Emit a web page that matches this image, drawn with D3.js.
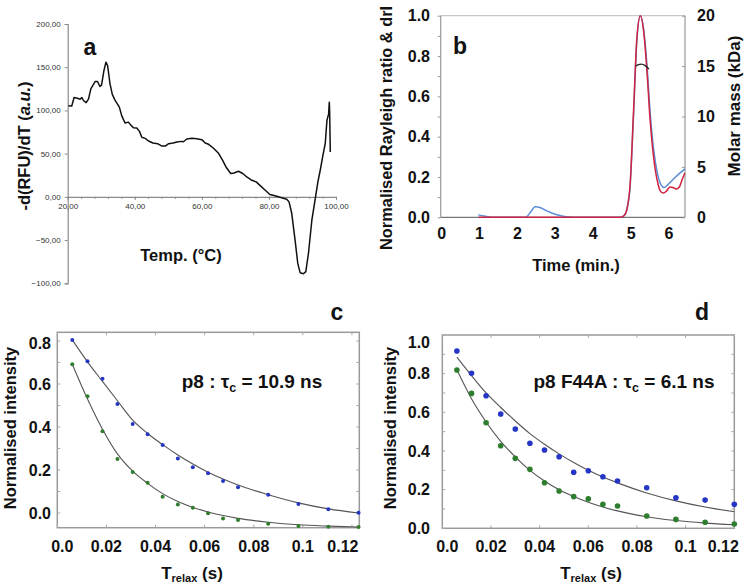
<!DOCTYPE html>
<html><head><meta charset="utf-8">
<script src="https://cdn.jsdelivr.net/npm/d3@7"></script>
<style>body{margin:0;background:#fff}svg{display:block}text{font-family:"Liberation Sans",Arial,Helvetica,sans-serif}</style>
</head><body><svg width="745" height="586"></svg>
<script>
// ---------- Panel a : thermal shift derivative ----------
const aTemp = [20.2,21.2,21.9,22.9,23.7,24.2,24.7,25.5,26.2,26.9,28.2,28.9,29.6,30.1,30.8,31.4,31.9,32.6,33.3,34.1,34.8,35.4,36.1,37.1,38.1,38.9,39.6,40.6,41.4,42.1,43.1,44.1,45.4,46.8,48.1,49.1,50.1,51.4,52.6,53.8,54.5,55.5,57.0,58.5,60.0,61.0,62.0,63.4,64.9,66.2,67.2,68.6,69.6,70.9,72.2,73.4,74.9,76.2,77.4,78.9,80.3,81.8,83.3,84.3,85.3,86.0,86.8,87.8,88.6,89.3,90.3,91.0,91.8,92.8,93.9,94.6,95.3,96.1,96.8,97.3,97.8,98.0,98.1,98.3];
const aDeriv = [105.4,105,115,114,113,115,111.5,109,113,125,133.5,133.5,127.7,129.6,146,155.8,152,131,118.5,112,107.7,103.8,94,85.4,86.5,82.7,80,79.6,75.8,69,67.7,64.6,62.3,61.5,58.8,58.8,61.5,62.3,63.5,64.2,63.8,67,67.7,67.3,66.2,62.3,60.8,56.5,50.8,42.3,34.6,27,27.7,29.6,27,23,19.2,17.3,13,7.7,2.7,1.2,-0.4,-1.5,-2.7,-5.8,-19,-50,-77,-87.7,-89,-86.5,-65,-27,0,17.3,30.8,48,62,88.5,96,109.6,100,52];
const aXTicks = [20,40,60,80,100];
const aYTicks = [200,150,100,50,0,-50,-100];

// ---------- Panel b : SEC-MALS ----------
const bBlueT = [0.99,1.15,1.35,2.25,2.35,2.5,2.6,2.8,3.0,3.2,3.4,3.6,4.75,4.85,4.92,5.0,5.09,5.18,5.27,5.36,5.44,5.53,5.62,5.72,5.82,5.9,6.0,6.2,6.45];
const bBlueV = [0.012,0.006,0,0,0.02,0.052,0.05,0.032,0.016,0.006,0.001,0,0,0.01,0.04,0.15,0.5,0.88,1.0,0.93,0.77,0.52,0.34,0.22,0.16,0.148,0.162,0.2,0.24];
const bRedT = [1.0,4.75,4.85,4.92,5.0,5.09,5.18,5.27,5.36,5.44,5.53,5.62,5.72,5.8,5.88,5.96,6.05,6.13,6.22,6.3,6.38,6.45];
const bRedV = [0,0,0.01,0.045,0.16,0.52,0.89,1.0,0.92,0.74,0.48,0.3,0.18,0.13,0.12,0.13,0.15,0.148,0.14,0.15,0.19,0.22];
const bMassT = [5.15,5.22,5.3,5.4,5.5];
const bMassKDa = [15.0,15.15,15.2,15.05,14.7];
const bXTicks = [0,1,2,3,4,5,6];
const bYTicks = [0,0.2,0.4,0.6,0.8,1.0];
const bY2Ticks = [0,5,10,15,20];

// ---------- Panel c : p8 relaxation ----------
const cTime = [0.0061,0.0123,0.0184,0.0245,0.0307,0.0368,0.0429,0.0491,0.0552,0.0614,0.0675,0.0736,0.0859,0.0982,0.1104,0.1227];
const cBlue = [0.805,0.706,0.625,0.507,0.414,0.366,0.316,0.253,0.213,0.185,0.149,0.12,0.085,0.042,0.017,0.001];
const cGreen = [0.692,0.543,0.380,0.251,0.191,0.141,0.076,0.039,0.025,-0.001,-0.025,-0.033,-0.050,-0.060,-0.064,-0.065];
const cBlueFit = [0.805,0.703,0.612,0.522,0.432,0.37,0.318,0.27,0.228,0.19,0.158,0.13,0.085,0.047,0.019,0.0];
const cGreenFit = [0.692,0.53,0.39,0.275,0.195,0.138,0.09,0.053,0.026,0.005,-0.012,-0.025,-0.043,-0.055,-0.061,-0.065];

// ---------- Panel d : p8 F44A relaxation ----------
const dTime = [0.006,0.012,0.018,0.024,0.030,0.036,0.042,0.048,0.054,0.060,0.066,0.072,0.084,0.096,0.108,0.120];
const dBlue = [0.917,0.802,0.686,0.591,0.514,0.44,0.405,0.37,0.29,0.298,0.267,0.245,0.21,0.158,0.146,0.124];
const dGreen = [0.819,0.698,0.546,0.427,0.362,0.305,0.236,0.193,0.164,0.152,0.124,0.115,0.064,0.046,0.031,0.022];
const dBlueFit = [0.885,0.79,0.70,0.625,0.555,0.49,0.435,0.385,0.34,0.30,0.265,0.235,0.183,0.142,0.11,0.086];
const dGreenFit = [0.82,0.67,0.55,0.45,0.37,0.30,0.245,0.20,0.165,0.135,0.11,0.09,0.06,0.04,0.027,0.018];

const relaxTicks = [0,0.02,0.04,0.06,0.08,0.1,0.12];
const relaxLabels = ["0.0","0.02","0.04","0.06","0.08","0.1","0.12"];
const cYTicks = [0,0.2,0.4,0.6,0.8];
const dYTicks = [0,0.2,0.4,0.6,0.8,1.0];

const svg = d3.select("svg");
const zip = (a,b) => a.map((v,i)=>[v,b[i]]);

function txt(g, x, y, s, size, opts={}) {
  const t = g.append("text").attr("x",x).attr("y",y).attr("font-size",size)
    .attr("font-weight", opts.weight||"bold").attr("fill", opts.fill||"#111")
    .attr("text-anchor", opts.anchor||"middle");
  if (opts.dy) t.attr("dy", opts.dy);
  t.text(s);
  return t;
}

// ================= Panel a =================
(function(){
  const g = svg.append("g");
  const x = d3.scaleLinear([20,100],[67.7,336]);
  const y = d3.scaleLinear([-100,200],[283.3,24]);
  const fmt = d => d3.format(".2f")(d).replace(".",",");
  const ya = g.append("g").attr("transform",`translate(${x(20)},0)`)
    .call(d3.axisLeft(y).tickValues(aYTicks).tickFormat(fmt).tickSize(3).tickPadding(4));
  ya.select(".domain").attr("stroke","#8a8a8a").attr("stroke-width",1.2);
  ya.selectAll(".tick line").attr("stroke","#8a8a8a");
  ya.selectAll("text").attr("font-size",8).attr("fill","#333").attr("font-family",'"Liberation Sans",Arial,sans-serif');
  const xm = g.append("g").attr("transform",`translate(0,${y(0)})`)
    .call(d3.axisBottom(x).tickValues(d3.range(20,101,4)).tickFormat("").tickSize(2).tickSizeOuter(0));
  xm.select(".domain").attr("stroke","#8a8a8a").attr("stroke-width",1.2);
  xm.selectAll(".tick line").attr("stroke","#8a8a8a");
  const xa = g.append("g").attr("transform",`translate(0,${y(0)})`)
    .call(d3.axisBottom(x).tickValues(aXTicks).tickFormat(fmt).tickSize(3).tickPadding(3));
  xa.select(".domain").remove();
  xa.selectAll(".tick line").attr("stroke","#8a8a8a");
  xa.selectAll("text").attr("font-size",8).attr("fill","#333").attr("font-family",'"Liberation Sans",Arial,sans-serif');
  g.append("path").datum(zip(aTemp,aDeriv))
    .attr("d", d3.line().x(d=>x(d[0])).y(d=>y(d[1])).curve(d3.curveLinear))
    .attr("fill","none").attr("stroke","#111").attr("stroke-width",1.5).attr("stroke-linejoin","round");
  txt(g, 90, 55, "a", 23);
  txt(g, 181, 261, "Temp. (°C)", 16.5);
  const t = g.append("text").attr("transform","translate(30,146) rotate(-90)")
    .attr("text-anchor","middle").attr("font-size",16.5).attr("font-weight","bold").attr("fill","#111");
  t.append("tspan").text("-d(RFU)/dT (");
  t.append("tspan").attr("font-style","italic").text("a.u.");
  t.append("tspan").text(")");
})();

// ================= Panel b =================
(function(){
  const g = svg.append("g");
  const x = d3.scaleLinear([0,6.45],[440.7,685]);
  const y = d3.scaleLinear([0,1],[217.3,15.7]);
  const y2 = d3.scaleLinear([0,20],[217.3,15.7]);
  g.append("line").attr("x1",x(0)).attr("x2",x(6.45)).attr("y1",y(1)).attr("y2",y(1)).attr("stroke","#c8c8c8").attr("stroke-width",1.2);
  g.append("line").attr("x1",x(6.45)).attr("x2",x(6.45)).attr("y1",y(1)).attr("y2",y(0)).attr("stroke","#999").attr("stroke-width",1.2);
  g.append("line").attr("x1",x(0)).attr("x2",x(0)).attr("y1",y(1)).attr("y2",y(0)).attr("stroke","#999").attr("stroke-width",1.2);
  g.append("line").attr("x1",x(0)).attr("x2",x(6.45)).attr("y1",y(0)).attr("y2",y(0)).attr("stroke","#777").attr("stroke-width",1.2);
  const yl = g.append("g").attr("transform",`translate(${x(0)},0)`)
    .call(d3.axisLeft(y).tickValues(d3.range(0,1.01,0.1)).tickFormat("").tickSize(3).tickSizeOuter(0));
  yl.select(".domain").remove(); yl.selectAll("line").attr("stroke","#999");
  const yr = g.append("g").attr("transform",`translate(${x(6.45)},0)`)
    .call(d3.axisLeft(y2).tickValues(bY2Ticks).tickFormat("").tickSize(3).tickSizeOuter(0));
  yr.select(".domain").remove(); yr.selectAll("line").attr("stroke","#999");
  bYTicks.forEach(v => txt(g, 430, y(v), d3.format(".1f")(v), 16, {anchor:"end", dy:"0.36em"}));
  bY2Ticks.forEach(v => txt(g, 697, y2(v), String(v), 16, {anchor:"start", dy:"0.36em"}));
  bXTicks.forEach(v => txt(g, x(v)+1, 239, String(v), 16));
  const line = d3.line().x(d=>x(d[0])).y(d=>y(d[1])).curve(d3.curveMonotoneX);
  g.append("path").datum(zip(bBlueT,bBlueV)).attr("d",line).attr("fill","none").attr("stroke","#5b8ed6").attr("stroke-width",1.5);
  g.append("path").datum(zip(bRedT,bRedV)).attr("d",line).attr("fill","none").attr("stroke","#cf2340").attr("stroke-width",1.5);
  g.append("path").datum(zip(bMassT,bMassKDa))
    .attr("d", d3.line().x(d=>x(d[0])).y(d=>y2(d[1])).curve(d3.curveMonotoneX))
    .attr("fill","none").attr("stroke","#222").attr("stroke-width",1.3);
  txt(g, 460, 54, "b", 23);
  txt(g, 576, 271, "Time (min.)", 16.5);
  g.append("text").attr("transform","translate(392,250) rotate(-90)").attr("text-anchor","start")
    .attr("font-size",16.4).attr("font-weight","bold").attr("fill","#111").text("Normalised Rayleigh ratio & drI");
  g.append("text").attr("transform","translate(740,106) rotate(-90)").attr("text-anchor","middle")
    .attr("font-size",17).attr("font-weight","bold").attr("fill","#111").text("Molar mass (kDa)");
})();

// ================= Panels c & d =================
function relaxPanel(o){
  const g = svg.append("g");
  const x = o.x, y = o.y;
  const [x0,x1] = x.range();
  g.append("rect").attr("x",x0).attr("y",o.top).attr("width",x1-x0).attr("height",o.bottom-o.top)
    .attr("fill","none").attr("stroke","#9a9a9a").attr("stroke-width",1.5);
  o.minorY.forEach(v => {
    g.append("line").attr("x1",x0).attr("x2",x0+3).attr("y1",y(v)).attr("y2",y(v)).attr("stroke","#aaa");
    g.append("line").attr("x1",x1).attr("x2",x1-3).attr("y1",y(v)).attr("y2",y(v)).attr("stroke","#aaa");
  });
  relaxTicks.forEach(v => {
    g.append("line").attr("x1",x(v)).attr("x2",x(v)).attr("y1",o.bottom).attr("y2",o.bottom-3).attr("stroke","#aaa");
    g.append("line").attr("x1",x(v)).attr("x2",x(v)).attr("y1",o.top).attr("y2",o.top+3).attr("stroke","#aaa");
  });
  relaxTicks.forEach((v,i) => {
    let px = x(v);
    if (i===0) px += o.firstShift;
    if (i===relaxTicks.length-1) px += o.lastShift;
    txt(g, px, 552, relaxLabels[i], 16);
  });
  o.yTicks.forEach((v,i) => {
    let py = y(v);
    if (i===o.yTicks.length-1) py += o.topShift;
    txt(g, o.labelRight, py, d3.format(".1f")(v), 16, {anchor:"end", dy:"0.36em"});
  });
  const fit = d3.line().x(d=>x(d[0])).y(d=>y(d[1])).curve(d3.curveMonotoneX);
  [o.blueFit, o.greenFit].forEach(f => {
    g.append("path").datum(zip(o.time,f)).attr("d",fit).attr("fill","none").attr("stroke","#555").attr("stroke-width",1.1);
  });
  g.selectAll(null).data(zip(o.time,o.blue)).enter().append("circle")
    .attr("cx",d=>x(d[0])).attr("cy",d=>y(d[1])).attr("r",o.r).attr("fill","#2636c4");
  g.selectAll(null).data(zip(o.time,o.green)).enter().append("circle")
    .attr("cx",d=>x(d[0])).attr("cy",d=>y(d[1])).attr("r",o.r).attr("fill","#2f7d2f");
  txt(g, o.letterX, 320, o.letter, 23);
  g.append("text").attr("transform",`translate(${o.yTitleX},428) rotate(-90)`).attr("text-anchor","middle")
    .attr("font-size",16.5).attr("font-weight","bold").attr("fill","#111").text("Normalised intensity");
  const tr = g.append("text").attr("x",o.xTitleX).attr("y",579).attr("text-anchor","middle")
    .attr("font-size",17).attr("font-weight","bold").attr("fill","#111");
  tr.append("tspan").text("T");
  tr.append("tspan").attr("font-size",11).attr("dy",3).text("relax");
  tr.append("tspan").attr("dy",-3).text(" (s)");
  const an = g.append("text").attr("x",o.annX).attr("y",388).attr("text-anchor","middle")
    .attr("font-size",19).attr("font-weight","bold").attr("fill","#111");
  an.append("tspan").text(o.annPre + "τ");
  an.append("tspan").attr("font-size",12.5).attr("dy",4).text("c");
  an.append("tspan").attr("dy",-4).text(" = " + o.annPost);
}

relaxPanel({
  x: d3.scaleLinear([0,0.123],[57.3,359.3]), y: d3.scaleLinear([0,0.8],[513,341]),
  top:332.3, bottom:527.7, minorY: d3.range(0,0.81,0.1),
  yTicks: cYTicks, topShift: 2, labelRight: 51, firstShift: 5, lastShift: -9,
  time: cTime, blue: cBlue, green: cGreen, blueFit: cBlueFit, greenFit: cGreenFit, r: 2,
  letter: "c", letterX: 337, yTitleX: 16, xTitleX: 192,
  annX: 252, annPre: "p8 : ", annPost: "10.9 ns"
});
relaxPanel({
  x: d3.scaleLinear([0,0.12],[442.3,734.3]), y: d3.scaleLinear([0,1],[528.3,335]),
  top:335, bottom:528.3, minorY: d3.range(0,1.01,0.1),
  yTicks: dYTicks, topShift: 7, labelRight: 430, firstShift: 5, lastShift: -11,
  time: dTime, blue: dBlue, green: dGreen, blueFit: dBlueFit, greenFit: dGreenFit, r: 2.8,
  letter: "d", letterX: 702, yTitleX: 396, xTitleX: 591,
  annX: 624, annPre: "p8 F44A : ", annPost: "6.1 ns"
});
</script></body></html>
